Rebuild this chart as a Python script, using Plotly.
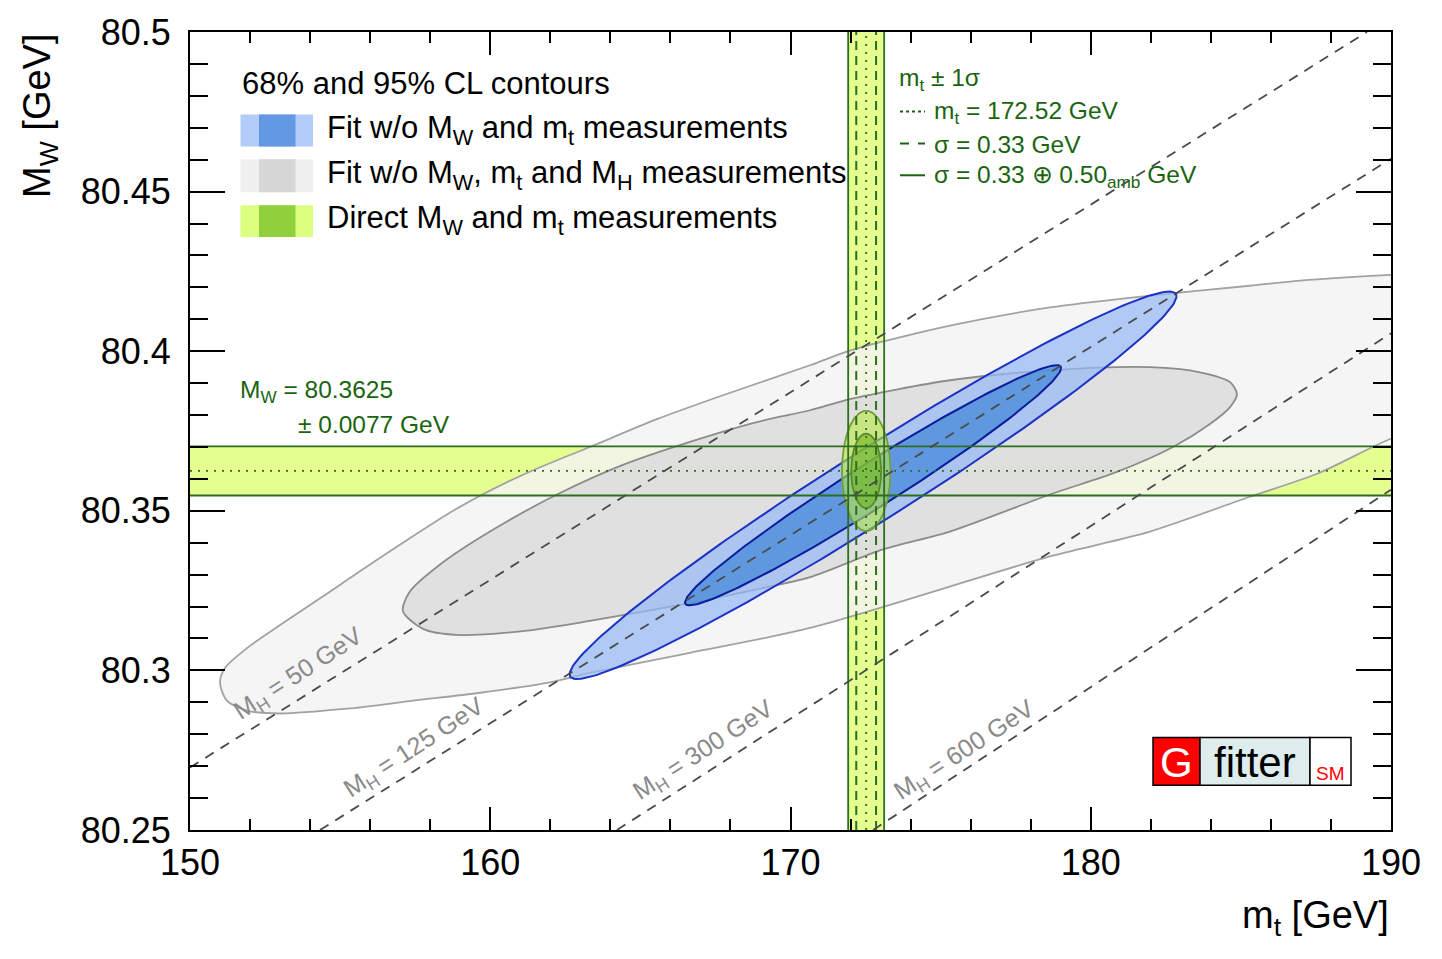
import numpy as np
import plotly.graph_objects as go

# ---------------- data ----------------
x_range = [150, 190]
y_range = [80.25, 80.5]
x_tick_vals = [150, 160, 170, 180, 190]
x_tick_text = ["150", "160", "170", "180", "190"]
y_tick_vals = [80.25, 80.3, 80.35, 80.4, 80.45, 80.5]
y_tick_text = ["80.25", "80.3", "80.35", "80.4", "80.45", "80.5"]

# direct measurements
mt_direct = 172.52
mt_sigma = 0.33
mt_sigma_amb = 0.50
mw_direct = 80.3625
mw_sigma = 0.0077

# CL scale factors (2D): 68% and 95%
cl_k = [np.sqrt(2.30), np.sqrt(5.99)]

# fit w/o MW and mt (blue): centre, widths, correlation
blue_mt, blue_mw = 172.75, 80.358
blue_smt, blue_smw, blue_rho = 4.13, 0.0248, 0.976

# fit w/o MW, mt and MH (grey) contours
grey95_mt = [151.00, 151.17, 151.90, 153.00, 154.33, 156.66, 158.89, 161.09, 163.32, 165.55,
             167.75, 170.65, 171.98, 175.31, 178.64, 181.97, 185.30, 186.97, 189.97, 190.97,
             191.80, 192.03, 191.63, 190.97, 189.97, 187.54, 185.30, 181.97, 178.64, 170.65,
             166.65, 163.32, 161.89, 159.66, 157.43, 155.23, 153.00, 151.90, 151.23]
grey95_mw = [80.2961, 80.3008, 80.3070, 80.3142, 80.3226, 80.3373, 80.3507, 80.3613, 80.3700, 80.3787,
             80.3862, 80.3956, 80.4002, 80.4080, 80.4137, 80.4174, 80.4205, 80.4221, 80.4239, 80.4243,
             80.4199, 80.4059, 80.3840, 80.3753, 80.3725, 80.3616, 80.3544, 80.3435, 80.3357, 80.3133,
             80.3055, 80.2992, 80.2961, 80.2930, 80.2905, 80.2880, 80.2865, 80.2874, 80.2905]
grey68_mt = [157.09, 157.33, 158.33, 159.99, 162.22, 164.42, 166.65, 168.88, 170.65, 171.98,
             175.31, 178.64, 181.97, 183.64, 184.64, 184.87, 184.64, 183.97, 182.74, 180.87,
             178.64, 175.31, 173.08, 170.65, 168.88, 166.65, 163.32, 161.09, 158.89, 157.76]
grey68_mw = [80.3186, 80.3248, 80.3332, 80.3435, 80.3551, 80.3644, 80.3716, 80.3778, 80.3815, 80.3850,
             80.3909, 80.3940, 80.3950, 80.3934, 80.3903, 80.3865, 80.3825, 80.3772, 80.3700, 80.3622,
             80.3551, 80.3435, 80.3379, 80.3292, 80.3254, 80.3211, 80.3155, 80.3123, 80.3111, 80.3130]

# SM lines for fixed MH
mh_names = ["50", "125", "300", "600"]
mh_mt_lo = [150.00, 154.33, 164.22, 172.75]
mh_mw_lo = [80.2696, 80.25, 80.25, 80.25]
mh_mt_hi = [189.20, 190.00, 190.00, 190.00]
mh_mw_hi = [80.5, 80.4603, 80.4056, 80.3566]
mh_label_mt = [153.63, 157.49, 167.09, 175.78]
mh_label_mw = [80.2989, 80.2756, 80.2749, 80.2749]

# ---------------- style ----------------
FONT = "Liberation Sans"
BAND = "#e5fe90"
BANDLINE = "#2f6d1f"
TXTGREEN = "#1a6410"

# plot area in pixels (for placing decorations)
L, R, T, B = 190, 1391, 28, 830


def pxx(x):
    return (x - L) / (R - L)


def pxy(y):
    return (B - y) / (B - T)


def contour(cx, cy, sx, sy, rho, k, n=240):
    t = np.linspace(0, 2 * np.pi, n)
    x = cx + k * sx * np.cos(t)
    y = cy + k * sy * (rho * np.cos(t) + np.sqrt(1 - rho ** 2) * np.sin(t))
    return x, y


fig = go.Figure()

mt_tot = float(np.hypot(mt_sigma, mt_sigma_amb))

# bands
fig.add_trace(go.Scatter(x=[x_range[0], x_range[1], x_range[1], x_range[0], x_range[0]],
                         y=[mw_direct - mw_sigma] * 2 + [mw_direct + mw_sigma] * 2 + [mw_direct - mw_sigma],
                         fill="toself", fillcolor=BAND, line=dict(width=0), mode="lines",
                         hoverinfo="skip", showlegend=False))
fig.add_trace(go.Scatter(x=[mt_direct - mt_tot, mt_direct + mt_tot, mt_direct + mt_tot, mt_direct - mt_tot, mt_direct - mt_tot],
                         y=[y_range[0], y_range[0], y_range[1], y_range[1], y_range[0]],
                         fill="toself", fillcolor=BAND, line=dict(width=0), mode="lines",
                         hoverinfo="skip", showlegend=False))

# grey contours
fig.add_trace(go.Scatter(x=grey95_mt + grey95_mt[:1], y=grey95_mw + grey95_mw[:1], mode="lines",
                         line=dict(color="#a2a2a2", width=1.8, shape="spline", smoothing=0.8),
                         fill="toself", fillcolor="rgba(243,243,243,0.82)",
                         hoverinfo="skip", showlegend=False))
fig.add_trace(go.Scatter(x=grey68_mt + grey68_mt[:1], y=grey68_mw + grey68_mw[:1], mode="lines",
                         line=dict(color="#8c8c8c", width=1.8, shape="spline", smoothing=0.8),
                         fill="toself", fillcolor="rgba(220,220,220,0.85)",
                         hoverinfo="skip", showlegend=False))

# blue contours
bx, by = contour(blue_mt, blue_mw, blue_smt, blue_smw, blue_rho, cl_k[1])
fig.add_trace(go.Scatter(x=bx, y=by, mode="lines", line=dict(color="#1c32c4", width=2),
                         fill="toself", fillcolor="rgba(150,185,245,0.72)",
                         hoverinfo="skip", showlegend=False))
bx, by = contour(blue_mt, blue_mw, blue_smt, blue_smw, blue_rho, cl_k[0])
fig.add_trace(go.Scatter(x=bx, y=by, mode="lines", line=dict(color="#0a1c9c", width=2),
                         fill="toself", fillcolor="rgba(67,135,218,0.72)",
                         hoverinfo="skip", showlegend=False))

# green ellipses
gx, gy = contour(mt_direct, mw_direct, mt_sigma, mw_sigma, 0.0, cl_k[1])
fig.add_trace(go.Scatter(x=gx, y=gy, mode="lines", line=dict(color="#6f9f3a", width=1.8),
                         fill="toself", fillcolor="rgba(185,232,70,0.6)",
                         hoverinfo="skip", showlegend=False))
gx, gy = contour(mt_direct, mw_direct, mt_sigma, mw_sigma, 0.0, cl_k[0])
fig.add_trace(go.Scatter(x=gx, y=gy, mode="lines", line=dict(color="#5a8a2a", width=1.8),
                         fill="toself", fillcolor="rgba(110,180,30,0.6)",
                         hoverinfo="skip", showlegend=False))

# band lines
for yv in [mw_direct - mw_sigma, mw_direct + mw_sigma]:
    fig.add_trace(go.Scatter(x=x_range, y=[yv, yv], mode="lines", line=dict(color=BANDLINE, width=1.8),
                             hoverinfo="skip", showlegend=False))
fig.add_trace(go.Scatter(x=x_range, y=[mw_direct, mw_direct], mode="lines",
                         line=dict(color=BANDLINE, width=1.8, dash="2px,6px"), hoverinfo="skip", showlegend=False))
for xv in [mt_direct - mt_tot, mt_direct + mt_tot]:
    fig.add_trace(go.Scatter(x=[xv, xv], y=y_range, mode="lines", line=dict(color=BANDLINE, width=1.8),
                             hoverinfo="skip", showlegend=False))
for xv in [mt_direct - mt_sigma, mt_direct + mt_sigma]:
    fig.add_trace(go.Scatter(x=[xv, xv], y=y_range, mode="lines",
                             line=dict(color=BANDLINE, width=2, dash="9px,6px"), hoverinfo="skip", showlegend=False))
fig.add_trace(go.Scatter(x=[mt_direct, mt_direct], y=y_range, mode="lines",
                         line=dict(color=BANDLINE, width=1.8, dash="2px,6px"), hoverinfo="skip", showlegend=False))

annotations = []
shapes = []

# MH lines
for i in range(len(mh_names)):
    fig.add_trace(go.Scatter(x=[mh_mt_lo[i], mh_mt_hi[i]], y=[mh_mw_lo[i], mh_mw_hi[i]], mode="lines",
                             line=dict(color="#4a4a4a", width=1.8, dash="10px,8px"),
                             hoverinfo="skip", showlegend=False))
    annotations.append(dict(x=mh_label_mt[i], y=mh_label_mw[i], xref="x", yref="y", xanchor="center",
                            yanchor="middle", text="M<sub>H</sub> = " + mh_names[i] + " GeV",
                            showarrow=False, textangle=-33,
                            font=dict(family=FONT, size=25, color="#8a8a8a")))

# legend block
annotations.append(dict(x=pxx(240), y=pxy(80), xref="paper", yref="paper", xanchor="left", yanchor="middle",
                        text="68% and 95% CL contours", showarrow=False,
                        font=dict(family=FONT, size=31, color="black")))
legend_items = [
    ("Fit w/o M<sub>W</sub> and m<sub>t</sub> measurements", "#b3ccf9", "#6399e2", 111, 143),
    ("Fit w/o M<sub>W</sub>, m<sub>t</sub> and M<sub>H</sub> measurements", "#f0f0f0", "#d6d6d6", 156, 189),
    ("Direct M<sub>W</sub> and m<sub>t</sub> measurements", "#dcff80", "#90d03c", 202, 234),
]
for text, light, dark, y0, y1 in legend_items:
    shapes.append(dict(type="rect", xref="paper", yref="paper", x0=pxx(240.5), x1=pxx(313), y0=pxy(y1), y1=pxy(y0),
                       fillcolor=light, line=dict(width=0), layer="above"))
    shapes.append(dict(type="rect", xref="paper", yref="paper", x0=pxx(259), x1=pxx(295.5), y0=pxy(y1), y1=pxy(y0),
                       fillcolor=dark, line=dict(width=0), layer="above"))
    annotations.append(dict(x=pxx(325), y=pxy((y0 + y1) / 2 - 1), xref="paper", yref="paper", xanchor="left",
                            yanchor="middle", text=text, showarrow=False,
                            font=dict(family=FONT, size=31, color="black")))

# mt annotation block
annotations.append(dict(x=pxx(897), y=pxy(76), xref="paper", yref="paper", xanchor="left", yanchor="middle",
                        text="m<sub>t</sub> ± 1σ", showarrow=False, font=dict(family=FONT, size=24.5, color=TXTGREEN)))
mt_lines = [
    ("m<sub>t</sub> = %.2f GeV" % mt_direct, "dot", 108, 109),
    ("σ = %.2f GeV" % mt_sigma, "dash", 140, 141),
    ("σ = %.2f ⊕ %.2f<sub>amb</sub>&nbsp;GeV" % (mt_sigma, mt_sigma_amb), "solid", 172, 173),
]
for text, dash, yl, yt in mt_lines:
    shapes.append(dict(type="line", xref="paper", yref="paper", x0=pxx(900), x1=pxx(925), y0=pxy(yl), y1=pxy(yl),
                       line=dict(color=TXTGREEN, width=2, dash=dash), layer="above"))
    annotations.append(dict(x=pxx(932), y=pxy(yt), xref="paper", yref="paper", xanchor="left", yanchor="middle",
                            text=text, showarrow=False, font=dict(family=FONT, size=24.5, color=TXTGREEN)))

# MW annotation
annotations.append(dict(x=pxx(238), y=pxy(389), xref="paper", yref="paper", xanchor="left", yanchor="middle",
                        text="M<sub>W</sub> = %.4f" % mw_direct, showarrow=False,
                        font=dict(family=FONT, size=24.5, color=TXTGREEN)))
annotations.append(dict(x=pxx(296), y=pxy(422), xref="paper", yref="paper", xanchor="left", yanchor="middle",
                        text="± %.4f GeV" % mw_sigma, showarrow=False,
                        font=dict(family=FONT, size=24.5, color=TXTGREEN)))

# Gfitter logo
shapes.append(dict(type="rect", xref="paper", yref="paper", x0=pxx(1153), x1=pxx(1200), y0=pxy(785), y1=pxy(737),
                   fillcolor="#ff0000", line=dict(color="black", width=1.5), layer="above"))
shapes.append(dict(type="rect", xref="paper", yref="paper", x0=pxx(1200), x1=pxx(1310), y0=pxy(785), y1=pxy(737),
                   fillcolor="#deeced", line=dict(color="black", width=1.5), layer="above"))
shapes.append(dict(type="rect", xref="paper", yref="paper", x0=pxx(1310), x1=pxx(1351), y0=pxy(785), y1=pxy(737),
                   fillcolor="white", line=dict(color="black", width=1.5), layer="above"))
annotations.append(dict(x=pxx(1176.5), y=pxy(762), xref="paper", yref="paper", xanchor="center", yanchor="middle",
                        text="G", showarrow=False, font=dict(family=FONT, size=42, color="white")))
annotations.append(dict(x=pxx(1255), y=pxy(762), xref="paper", yref="paper", xanchor="center", yanchor="middle",
                        text="fitter", showarrow=False, font=dict(family=FONT, size=42, color="black")))
annotations.append(dict(x=pxx(1330), y=pxy(773), xref="paper", yref="paper", xanchor="center", yanchor="middle",
                        text="SM", showarrow=False, font=dict(family=FONT, size=19, color="#ff0000")))

# axis titles
annotations.append(dict(x=1.0, y=pxy(918), xref="paper", yref="paper", xanchor="right", yanchor="middle",
                        text="m<sub>t</sub> [GeV]", showarrow=False, font=dict(family=FONT, size=38, color="black")))
annotations.append(dict(x=pxx(40), y=1.0, xref="paper", yref="paper", xanchor="center", yanchor="top",
                        text="M<sub>W</sub> [GeV]", textangle=-90, showarrow=False,
                        font=dict(family=FONT, size=38, color="black")))

fig.update_layout(
    width=1442, height=959, autosize=False,
    margin=dict(l=L, r=1442 - R, t=T, b=959 - B),
    paper_bgcolor="white", plot_bgcolor="white",
    showlegend=False,
    annotations=annotations,
    shapes=shapes,
    font=dict(family=FONT),
    xaxis=dict(range=x_range, tickmode="array", tickvals=x_tick_vals, ticktext=x_tick_text,
               ticks="inside", ticklen=23, tickwidth=2, tickcolor="black",
               showline=True, linecolor="black", linewidth=2, mirror="allticks",
               showgrid=False, zeroline=False, ticklabelstandoff=0,
               tickfont=dict(family=FONT, size=36, color="black"),
               minor=dict(dtick=2, tick0=150, ticks="inside", ticklen=11, tickwidth=2, tickcolor="black",
                          showgrid=False)),
    yaxis=dict(range=y_range, tickmode="array", tickvals=y_tick_vals, ticktext=y_tick_text,
               ticks="inside", ticklen=35, tickwidth=2, tickcolor="black",
               showline=True, linecolor="black", linewidth=2, mirror="allticks",
               showgrid=False, zeroline=False, ticklabelstandoff=10,
               tickfont=dict(family=FONT, size=36, color="black"),
               minor=dict(dtick=0.01, tick0=80.25, ticks="inside", ticklen=18, tickwidth=2, tickcolor="black",
                          showgrid=False)),
)

fig.write_html("out.html", config={"displayModeBar": False},
               post_script="document.body.style.margin='0';")
